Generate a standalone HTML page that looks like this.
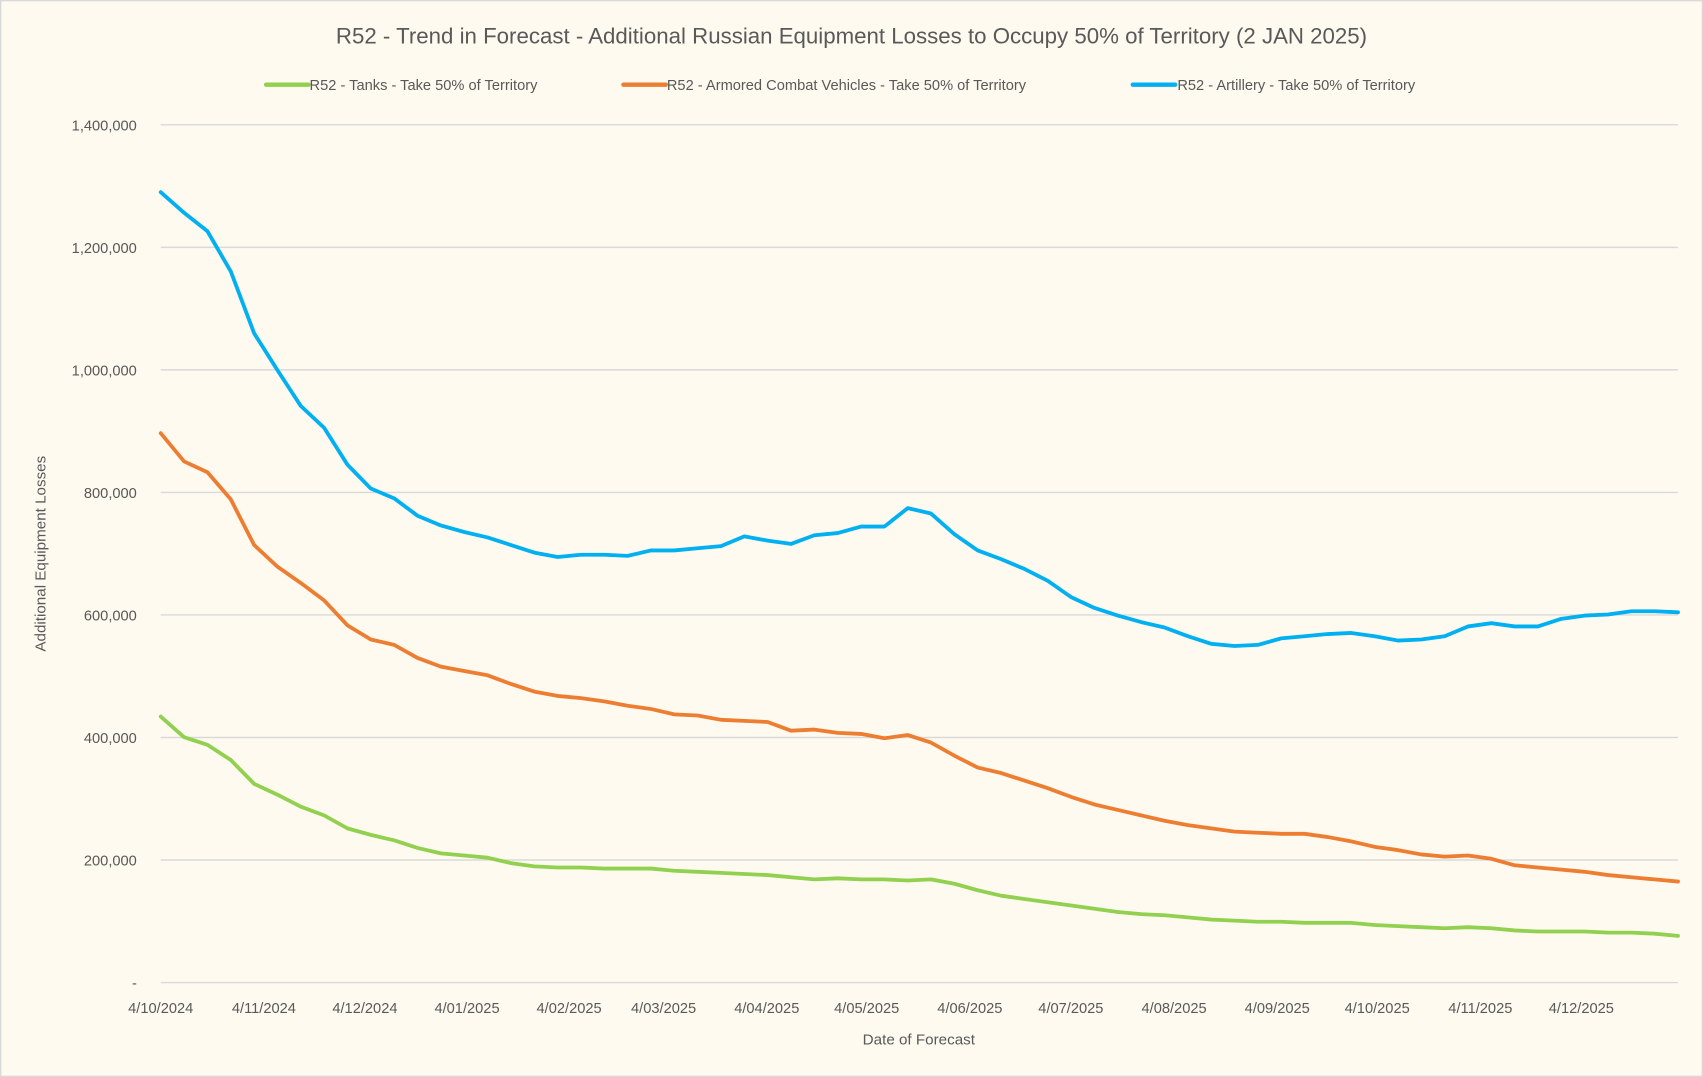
<!DOCTYPE html>
<html><head><meta charset="utf-8"><style>
html,body{margin:0;padding:0;background:#fffaf0;}
svg{display:block}
text{font-family:"Liberation Sans",sans-serif;fill:#595959}
</style></head><body>
<svg width="1703" height="1077" viewBox="0 0 1568 992" preserveAspectRatio="none" xmlns="http://www.w3.org/2000/svg">
<rect x="0.5" y="0.5" width="1567" height="991" fill="#fffaf0" stroke="#d9d9d9" stroke-width="1.5"/>
<text x="784" y="40" font-size="20.5" text-anchor="middle">R52 - Trend in Forecast - Additional Russian Equipment Losses to Occupy 50% of Territory (2 JAN 2025)</text>
<line x1="245" y1="78" x2="284" y2="78" stroke="#92d050" stroke-width="4" stroke-linecap="round"/>
<text x="285" y="83" font-size="13.5">R52 - Tanks - Take 50% of Territory</text>
<line x1="574" y1="78" x2="613" y2="78" stroke="#ed7d31" stroke-width="4" stroke-linecap="round"/>
<text x="614" y="83" font-size="13.5">R52 - Armored Combat Vehicles - Take 50% of Territory</text>
<line x1="1043" y1="78" x2="1082" y2="78" stroke="#00b0f0" stroke-width="4" stroke-linecap="round"/>
<text x="1084" y="83" font-size="13.5">R52 - Artillery - Take 50% of Territory</text>
<g id="grid" stroke="#d9d9d9" stroke-width="1.3"></g>
<g id="ylab" font-size="13.5" text-anchor="end"></g>
<g id="xlab" font-size="13.5" text-anchor="middle"></g>
<text x="42" y="510" font-size="14" text-anchor="middle" transform="rotate(-90 42 510)">Additional Equipment Losses</text>
<text x="846" y="962" font-size="14" text-anchor="middle">Date of Forecast</text>
<polyline id="g" fill="none" stroke="#92d050" stroke-width="3.5" stroke-linejoin="round" stroke-linecap="round"/>
<polyline id="o" fill="none" stroke="#ed7d31" stroke-width="3.5" stroke-linejoin="round" stroke-linecap="round"/>
<polyline id="b" fill="none" stroke="#00b0f0" stroke-width="3.5" stroke-linejoin="round" stroke-linecap="round"/>
</svg>
<script>
var NS="http://www.w3.org/2000/svg";
function el(p,t,a,txt){var e=document.createElementNS(NS,t);for(var k in a)e.setAttribute(k,a[k]);if(txt!==undefined)e.textContent=txt;document.getElementById(p).appendChild(e);}
var labs=["-","200,000","400,000","600,000","800,000","1,000,000","1,200,000","1,400,000"];
for(var i=0;i<8;i++){var y=905-i*112.86;el("grid","line",{x1:148,x2:1545,y1:y,y2:y});el("ylab","text",{x:126,y:y+5},labs[i]);}
var xl=[[148,"4/10/2024"],[243,"4/11/2024"],[336,"4/12/2024"],[430,"4/01/2025"],[524,"4/02/2025"],[611,"4/03/2025"],[706,"4/04/2025"],[798,"4/05/2025"],[893,"4/06/2025"],[986,"4/07/2025"],[1081,"4/08/2025"],[1176,"4/09/2025"],[1268,"4/10/2025"],[1363,"4/11/2025"],[1456,"4/12/2025"]];
xl.forEach(function(a){el("xlab","text",{x:a[0],y:933},a[1]);});
var B=[177,196,213,250,307,341,374,394,428,450,459,475,484,490,495,502,509,513,511,511,512,507,507,505,503,494,498,501,493,491,485,485,468,473,492,507,515,524,535,550,560,567,573,578,586,593,595,594,588,586,584,583,586,590,589,586,577,574,577,577,570,567,566,563,563,564];
var O=[399,425,435,460,502,522,537,553,576,589,594,606,614,618,622,630,637,641,643,646,650,653,658,659,663,664,665,673,672,675,676,680,677,684,696,707,712,719,726,734,741,746,751,756,760,763,766,767,768,768,771,775,780,783,787,789,788,791,797,799,801,803,806,808,810,812];
var G=[660,679,686,700,722,732,743,751,763,769,774,781,786,788,790,795,798,799,799,800,800,800,802,803,804,805,806,808,810,809,810,810,811,810,814,820,825,828,831,834,837,840,842,843,845,847,848,849,849,850,850,850,852,853,854,855,854,855,857,858,858,858,859,859,860,862];
function pts(a){var s=(1545-148)/(a.length-1);return a.map(function(v,i){return (148+i*s).toFixed(1)+","+v;}).join(" ");}
document.getElementById("b").setAttribute("points",pts(B));
document.getElementById("o").setAttribute("points",pts(O));
document.getElementById("g").setAttribute("points",pts(G));
</script>
</body></html>
